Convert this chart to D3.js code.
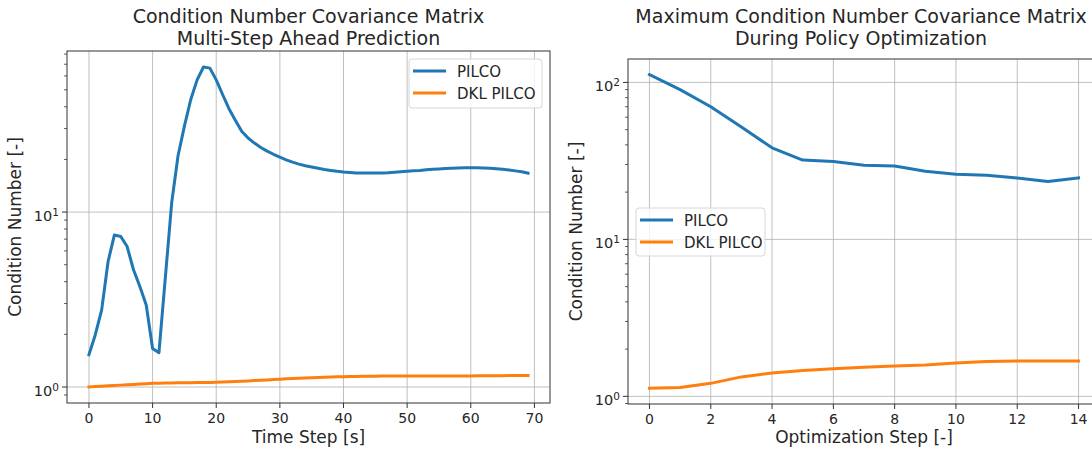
<!DOCTYPE html>
<html>
<head>
<meta charset="utf-8">
<script src="https://cdn.jsdelivr.net/npm/d3@7"></script>
<style>
  html, body { margin: 0; padding: 0; background: #fff; }
  svg text { font-family: "DejaVu Sans", sans-serif; fill: #262626; }
</style>
</head>
<body>
<svg id="fig" width="1092" height="450"></svg>
<script>
// Condition number of the predicted covariance, per time step (0..69)
const timeSteps = d3.range(0, 70);
const pilcoPrediction = [
  1.53, 1.99, 2.76, 5.2, 7.4, 7.25, 6.35, 4.68, 3.75, 2.94,
  1.66, 1.57, 4.2, 11.3, 21, 31, 44, 57, 67.5, 66.5,
  57, 47, 39, 33.5, 29, 26.5, 24.8, 23.4, 22.3, 21.4,
  20.6, 19.9, 19.3, 18.8, 18.4, 18.1, 17.8, 17.5, 17.3, 17.1,
  16.95, 16.85, 16.75, 16.7, 16.7, 16.7, 16.75, 16.8, 16.9, 17.0,
  17.1, 17.2, 17.3, 17.45, 17.55, 17.65, 17.75, 17.8, 17.85, 17.9,
  17.9, 17.9, 17.85, 17.8, 17.7, 17.55, 17.4, 17.2, 17.0, 16.7
];
const dklPrediction = [
  1.00, 1.005, 1.01, 1.015, 1.02, 1.025, 1.03, 1.035, 1.04, 1.045,
  1.05, 1.052, 1.054, 1.055, 1.056, 1.057, 1.058, 1.06, 1.061, 1.062,
  1.064, 1.067, 1.07, 1.074, 1.078, 1.083, 1.088, 1.093, 1.098, 1.103,
  1.108, 1.113, 1.118, 1.122, 1.126, 1.13, 1.134, 1.137, 1.14, 1.143,
  1.145, 1.147, 1.149, 1.151, 1.152, 1.153, 1.154, 1.155, 1.155, 1.156,
  1.156, 1.156, 1.156, 1.156, 1.157, 1.157, 1.157, 1.157, 1.157, 1.157,
  1.157, 1.158, 1.158, 1.159, 1.16, 1.161, 1.162, 1.163, 1.164, 1.165
];

// Maximum condition number per policy-optimization step (0..14)
const optSteps = d3.range(0, 15);
const pilcoOptim = [112, 90, 70, 52, 38.3, 32, 31.3, 29.7, 29.3, 27.2, 26, 25.6, 24.6, 23.4, 24.6];
const dklOptim = [1.125, 1.14, 1.21, 1.33, 1.41, 1.46, 1.5, 1.53, 1.56, 1.585, 1.63, 1.67, 1.68, 1.68, 1.68];

const xTicksLeft = [0, 10, 20, 30, 40, 50, 60, 70];
const xTicksRight = [0, 2, 4, 6, 8, 10, 12, 14];
const seriesNames = ["PILCO", "DKL PILCO"];
const colors = ["#1f77b4", "#ff7f0e"];

const svg = d3.select("#fig");

// log-scale domain with 5% padding in log space (like matplotlib autoscale)
function logDomain(values) {
  const lo = Math.log10(d3.min(values)), hi = Math.log10(d3.max(values));
  const m = 0.05 * (hi - lo);
  return [Math.pow(10, lo - m), Math.pow(10, hi + m)];
}
function linDomain(values) {
  const lo = d3.min(values), hi = d3.max(values);
  const m = 0.05 * (hi - lo);
  return [lo - m, hi + m];
}

function panel(opts) {
  const { left, right, top, bottom, xs, series, xTicks, titleLines, xLabel, yLabel, legend } = opts;
  const g = svg.append("g");
  const x = d3.scaleLinear().domain(linDomain(xs)).range([left, right]);
  const y = d3.scaleLog().domain(logDomain(series.flat())).range([bottom, top]);

  const [y0, y1] = y.domain();
  const decades = d3.range(Math.ceil(Math.log10(y0)), Math.floor(Math.log10(y1)) + 1).map(e => Math.pow(10, e));
  const minors = [];
  for (let e = Math.floor(Math.log10(y0)); e <= Math.ceil(Math.log10(y1)); e++) {
    for (let k = 2; k <= 9; k++) {
      const v = k * Math.pow(10, e);
      if (v >= y0 && v <= y1) minors.push(v);
    }
  }

  // grid
  const grid = g.append("g").attr("stroke", "#b0b0b0").attr("stroke-width", 0.8);
  xTicks.forEach(t => grid.append("line")
    .attr("x1", x(t)).attr("x2", x(t)).attr("y1", top).attr("y2", bottom));
  decades.forEach(v => grid.append("line")
    .attr("x1", left).attr("x2", right).attr("y1", y(v)).attr("y2", y(v)));

  // lines
  const line = d3.line().x((d, i) => x(xs[i])).y(d => y(d));
  series.forEach((s, i) => g.append("path")
    .datum(s).attr("d", line).attr("fill", "none")
    .attr("stroke", colors[i]).attr("stroke-width", 3)
    .attr("stroke-linejoin", "round").attr("stroke-linecap", "square"));

  // spines
  g.append("rect").attr("x", left).attr("y", top)
    .attr("width", right - left).attr("height", bottom - top)
    .attr("fill", "none").attr("stroke", "#333").attr("stroke-width", 1);

  // x axis ticks
  const xa = g.append("g");
  xTicks.forEach(t => {
    xa.append("line").attr("x1", x(t)).attr("x2", x(t))
      .attr("y1", bottom).attr("y2", bottom + 5).attr("stroke", "#333");
    xa.append("text").attr("x", x(t)).attr("y", bottom + 20)
      .attr("text-anchor", "middle").attr("font-size", 14).text(t);
  });

  // y axis ticks (log)
  const ya = g.append("g");
  decades.forEach(v => {
    ya.append("line").attr("x1", left - 5).attr("x2", left)
      .attr("y1", y(v)).attr("y2", y(v)).attr("stroke", "#333");
    const t = ya.append("text").attr("x", left - 8).attr("y", y(v) + 9)
      .attr("text-anchor", "end").attr("font-size", 14.5);
    t.append("tspan").text("10");
    t.append("tspan").attr("dy", -5.5).attr("font-size", 10.5).text(Math.round(Math.log10(v)));
  });
  minors.forEach(v => ya.append("line").attr("x1", left - 3).attr("x2", left)
    .attr("y1", y(v)).attr("y2", y(v)).attr("stroke", "#333").attr("stroke-width", 0.8));

  // titles and labels
  const cx = (left + right) / 2;
  const tx = opts.titleX || cx;
  titleLines.forEach((s, i) => g.append("text").attr("x", tx).attr("y", 22.5 + i * 22.5)
    .attr("text-anchor", "middle").attr("font-size", 19).text(s));
  g.append("text").attr("x", cx).attr("y", 443).attr("text-anchor", "middle")
    .attr("font-size", 17).text(xLabel);
  g.append("text").attr("transform", `translate(${opts.yLabelX},${(top + bottom) / 2}) rotate(-90)`)
    .attr("text-anchor", "middle").attr("font-size", 17).text(yLabel);

  // legend
  const lg = g.append("g");
  lg.append("rect").attr("x", legend.x).attr("y", legend.y)
    .attr("width", legend.w).attr("height", legend.h).attr("rx", 3)
    .attr("fill", "rgba(255,255,255,0.8)").attr("stroke", "#d6d6d6");
  seriesNames.forEach((n, i) => {
    const ly = legend.y + 12 + i * 22;
    lg.append("line").attr("x1", legend.x + 4).attr("x2", legend.x + 37)
      .attr("y1", ly).attr("y2", ly).attr("stroke", colors[i]).attr("stroke-width", 3);
    lg.append("text").attr("x", legend.x + 48).attr("y", ly + 5.5)
      .attr("font-size", 15).text(n);
  });
}

panel({
  left: 67, right: 550, top: 51, bottom: 403,
  xs: timeSteps, series: [pilcoPrediction, dklPrediction], xTicks: xTicksLeft,
  titleLines: ["Condition Number Covariance Matrix", "Multi-Step Ahead Prediction"],
  xLabel: "Time Step [s]", yLabel: "Condition Number [-]", yLabelX: 21,
  legend: { x: 409, y: 59, w: 133, h: 49 }
});

panel({
  left: 628, right: 1100, top: 59, bottom: 404,
  xs: optSteps, series: [pilcoOptim, dklOptim], xTicks: xTicksRight,
  titleLines: ["Maximum Condition Number Covariance Matrix", "During Policy Optimization"],
  titleX: 861,
  xLabel: "Optimization Step [-]", yLabel: "Condition Number [-]", yLabelX: 582,
  legend: { x: 636, y: 208, w: 129, h: 48 }
});
</script>
</body>
</html>
